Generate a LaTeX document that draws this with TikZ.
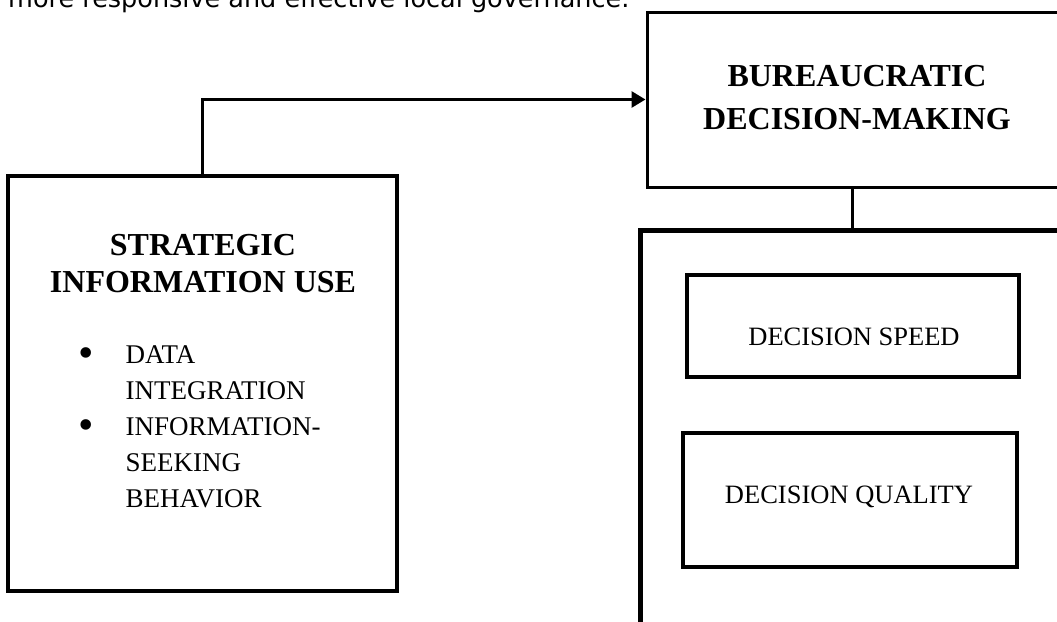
\documentclass[tikz,border=0pt]{standalone}
\usepackage{fontspec}
\setmainfont{Liberation Serif}
\newfontfamily\topfont{DejaVu Sans}
\usetikzlibrary{arrows.meta}
\newcommand{\bigbul}{\raisebox{-4pt}{\fontsize{44}{36}\selectfont\textbullet}}
\tikzset{
  boxn/.style={draw=black, line width=3.5pt, inner sep=0pt, fill=none},
  outern/.style={draw=black, line width=5pt, inner sep=0pt},
  conn/.style={draw=black, line width=3pt},
  arrowconn/.style={conn, -{Triangle[length=14pt,width=16pt]}},
  txt/.style={inner sep=0pt, anchor=base, text=black}
}
\begin{document}
\begin{tikzpicture}[x=1pt,y=-1pt]
\useasboundingbox (0,0) rectangle (1057,621);
\clip (0,0) rectangle (1057,621);
\fill[white] (0,0) rectangle (1057,621);

% cut-off running text at top
\node[txt, anchor=base west] (toptext) at (8,7) {\topfont\fontsize{25.5}{30}\selectfont more responsive and effective local governance.};

% left box
\node[boxn, minimum width=389pt, minimum height=415pt] (sbox) at (202.5,383.5) {};
\node[txt] (shead) at (203,255) {\fontsize{32}{37}\selectfont\bfseries
  \begin{tabular}[t]{@{}c@{}}STRATEGIC\\INFORMATION USE\end{tabular}};
\node[txt, anchor=base west] (sitems) at (78,363) {\fontsize{27}{36}\selectfont
  \begin{tabular}[t]{@{}l@{\hspace{32pt}}l@{}}
  \bigbul & DATA\\
   & INTEGRATION\\
  \bigbul & INFORMATION-\\
   & SEEKING\\
   & BEHAVIOR
  \end{tabular}};

% top right box
\node[boxn, line width=3pt, minimum width=419pt, minimum height=175pt] (bbox) at (856.5,99.5) {};
\node[txt] (bhead) at (857,86) {\fontsize{32}{43}\selectfont\bfseries
  \begin{tabular}[t]{@{}c@{}}BUREAUCRATIC\\DECISION-MAKING\end{tabular}};

% outer big box
\node[outern, minimum width=424pt, minimum height=410pt] (outer) at (852,435) {};

% inner boxes
\node[boxn, minimum width=332pt, minimum height=102pt] (speed) at (853,326) {};
\node[txt] (speedtxt) at (854,345) {\fontsize{26.5}{30}\selectfont DECISION SPEED};
\node[boxn, minimum width=334pt, minimum height=134pt] (quality) at (850,500) {};
\node[txt] (qualitytxt) at (849,503) {\fontsize{26.5}{30}\selectfont DECISION QUALITY};

% connectors
\draw[arrowconn] (sbox.north) |- (bbox.west);
\draw[conn] (outer.north |- bbox.south) -- (outer.north);
\end{tikzpicture}
\end{document}
